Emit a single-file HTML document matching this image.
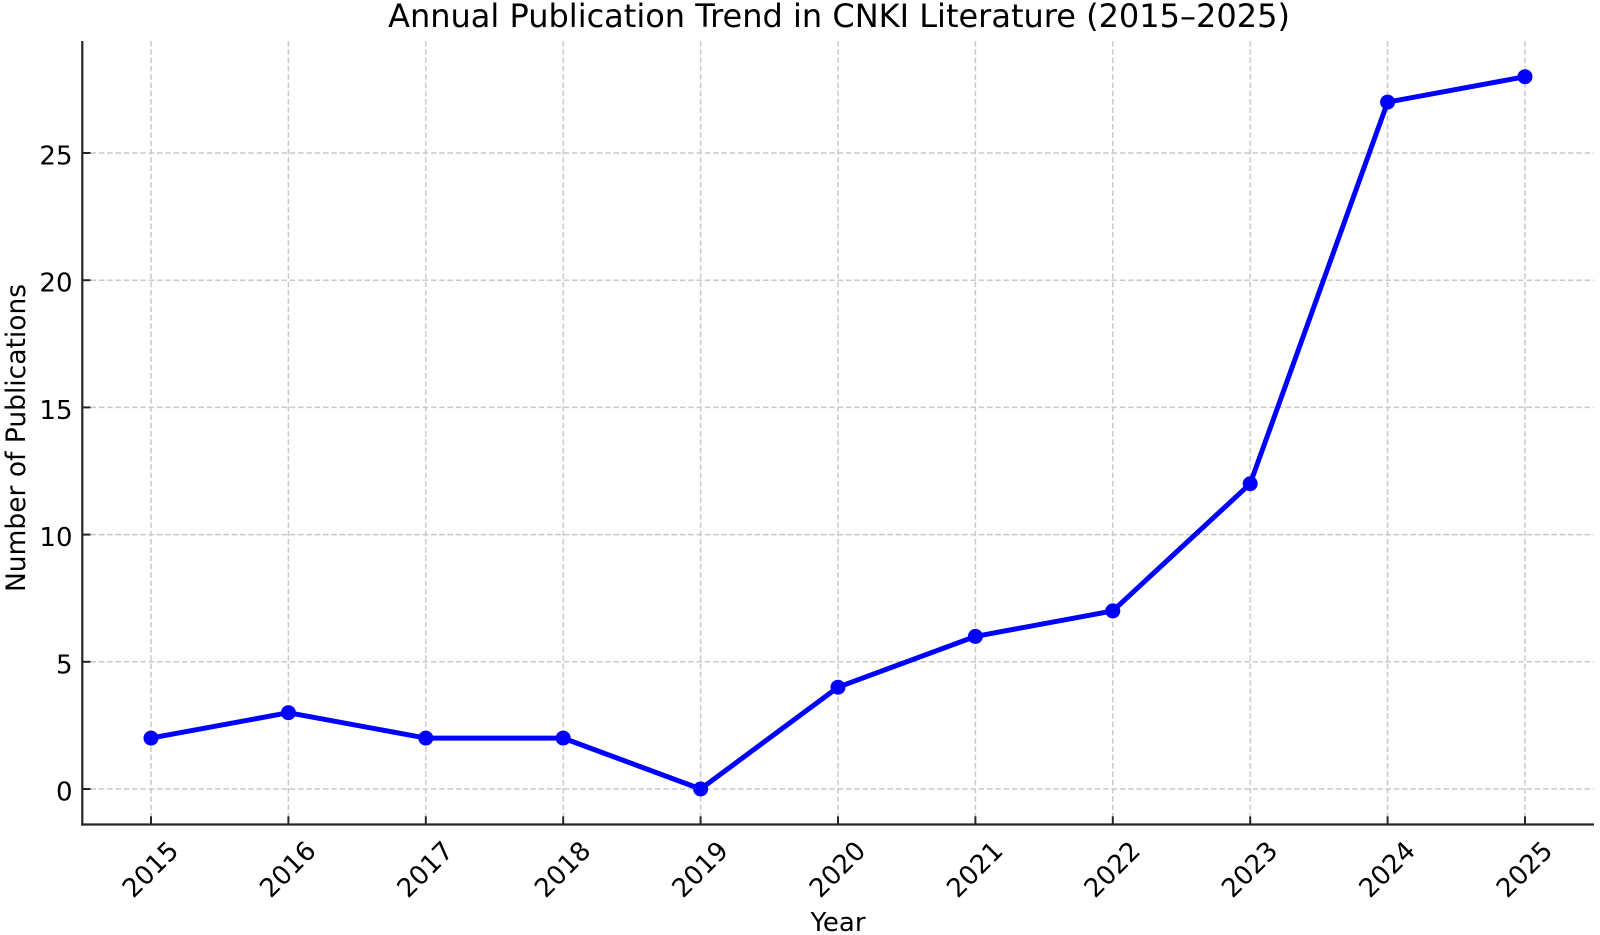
<!DOCTYPE html>
<html>
<head>
<meta charset="utf-8">
<style>
  html, body { margin: 0; padding: 0; background: #ffffff; }
  svg { display: block; }
  text { font-family: "DejaVu Sans", "Liberation Sans", sans-serif; fill: #000; }
</style>
</head>
<body>
<svg width="1600" height="935" viewBox="0 0 1600 935" xmlns="http://www.w3.org/2000/svg">
  <rect x="0" y="0" width="1600" height="935" fill="#ffffff"/>

  <!-- Grid lines -->
  <g stroke="#c9c9c9" stroke-width="1.5" stroke-dasharray="5.5,2.8" fill="none">
    <line x1="82.3" y1="789" x2="1594" y2="789"/>
    <line x1="82.3" y1="661.8" x2="1594" y2="661.8"/>
    <line x1="82.3" y1="534.6" x2="1594" y2="534.6"/>
    <line x1="82.3" y1="407.4" x2="1594" y2="407.4"/>
    <line x1="82.3" y1="280.2" x2="1594" y2="280.2"/>
    <line x1="82.3" y1="153" x2="1594" y2="153"/>
    <line x1="151" y1="41" x2="151" y2="824.5"/>
    <line x1="288.4" y1="41" x2="288.4" y2="824.5"/>
    <line x1="425.8" y1="41" x2="425.8" y2="824.5"/>
    <line x1="563.2" y1="41" x2="563.2" y2="824.5"/>
    <line x1="700.6" y1="41" x2="700.6" y2="824.5"/>
    <line x1="838" y1="41" x2="838" y2="824.5"/>
    <line x1="975.4" y1="41" x2="975.4" y2="824.5"/>
    <line x1="1112.8" y1="41" x2="1112.8" y2="824.5"/>
    <line x1="1250.2" y1="41" x2="1250.2" y2="824.5"/>
    <line x1="1387.6" y1="41" x2="1387.6" y2="824.5"/>
    <line x1="1525" y1="41" x2="1525" y2="824.5"/>
  </g>

  <!-- Spines -->
  <g stroke="#262626" stroke-width="2.2" fill="none">
    <line x1="82.3" y1="41" x2="82.3" y2="825.6"/>
    <line x1="81.2" y1="824.5" x2="1594" y2="824.5"/>
  </g>

  <!-- Ticks (inward) -->
  <g stroke="#262626" stroke-width="2" fill="none">
    <line x1="82.3" y1="789" x2="90.5" y2="789"/>
    <line x1="82.3" y1="661.8" x2="90.5" y2="661.8"/>
    <line x1="82.3" y1="534.6" x2="90.5" y2="534.6"/>
    <line x1="82.3" y1="407.4" x2="90.5" y2="407.4"/>
    <line x1="82.3" y1="280.2" x2="90.5" y2="280.2"/>
    <line x1="82.3" y1="153" x2="90.5" y2="153"/>

    <line x1="151" y1="824.5" x2="151" y2="816.3"/>
    <line x1="288.4" y1="824.5" x2="288.4" y2="816.3"/>
    <line x1="425.8" y1="824.5" x2="425.8" y2="816.3"/>
    <line x1="563.2" y1="824.5" x2="563.2" y2="816.3"/>
    <line x1="700.6" y1="824.5" x2="700.6" y2="816.3"/>
    <line x1="838" y1="824.5" x2="838" y2="816.3"/>
    <line x1="975.4" y1="824.5" x2="975.4" y2="816.3"/>
    <line x1="1112.8" y1="824.5" x2="1112.8" y2="816.3"/>
    <line x1="1250.2" y1="824.5" x2="1250.2" y2="816.3"/>
    <line x1="1387.6" y1="824.5" x2="1387.6" y2="816.3"/>
    <line x1="1525" y1="824.5" x2="1525" y2="816.3"/>
  </g>

  <!-- Y tick labels -->
  <g font-size="26" text-anchor="end">
    <text x="72.5" y="800.5">0</text>
    <text x="72.5" y="673.3">5</text>
    <text x="72.5" y="546.1">10</text>
    <text x="72.5" y="418.9">15</text>
    <text x="72.5" y="291.7">20</text>
    <text x="72.5" y="164.5">25</text>
  </g>

  <!-- X tick labels (rotated 45°) -->
  <g font-size="26" text-anchor="middle" dominant-baseline="central">
    <text x="151" y="870" transform="rotate(-45 151 870)">2015</text>
    <text x="288.4" y="870" transform="rotate(-45 288.4 870)">2016</text>
    <text x="425.8" y="870" transform="rotate(-45 425.8 870)">2017</text>
    <text x="563.2" y="870" transform="rotate(-45 563.2 870)">2018</text>
    <text x="700.6" y="870" transform="rotate(-45 700.6 870)">2019</text>
    <text x="838" y="870" transform="rotate(-45 838 870)">2020</text>
    <text x="975.4" y="870" transform="rotate(-45 975.4 870)">2021</text>
    <text x="1112.8" y="870" transform="rotate(-45 1112.8 870)">2022</text>
    <text x="1250.2" y="870" transform="rotate(-45 1250.2 870)">2023</text>
    <text x="1387.6" y="870" transform="rotate(-45 1387.6 870)">2024</text>
    <text x="1525" y="870" transform="rotate(-45 1525 870)">2025</text>
  </g>

  <!-- Axis labels -->
  <text x="838" y="931" font-size="26" text-anchor="middle">Year</text>
  <text x="25" y="438" font-size="26.5" text-anchor="middle" transform="rotate(-90 25 438)">Number of Publications</text>

  <!-- Title -->
  <text x="839" y="27" font-size="32" text-anchor="middle">Annual Publication Trend in CNKI Literature (2015–2025)</text>

  <!-- Data line -->
  <polyline fill="none" stroke="#0000ff" stroke-width="5" stroke-linejoin="round" stroke-linecap="butt"
    points="151,738.1 288.4,712.7 425.8,738.1 563.2,738.1 700.6,789 838,687.2 975.4,636.4 1112.8,610.9 1250.2,483.7 1387.6,102.1 1525,76.7"/>

  <!-- Markers -->
  <g fill="#0000ff">
    <circle cx="151" cy="738.1" r="7.5"/>
    <circle cx="288.4" cy="712.7" r="7.5"/>
    <circle cx="425.8" cy="738.1" r="7.5"/>
    <circle cx="563.2" cy="738.1" r="7.5"/>
    <circle cx="700.6" cy="789" r="7.5"/>
    <circle cx="838" cy="687.2" r="7.5"/>
    <circle cx="975.4" cy="636.4" r="7.5"/>
    <circle cx="1112.8" cy="610.9" r="7.5"/>
    <circle cx="1250.2" cy="483.7" r="7.5"/>
    <circle cx="1387.6" cy="102.1" r="7.5"/>
    <circle cx="1525" cy="76.7" r="7.5"/>
  </g>
</svg>
</body>
</html>
